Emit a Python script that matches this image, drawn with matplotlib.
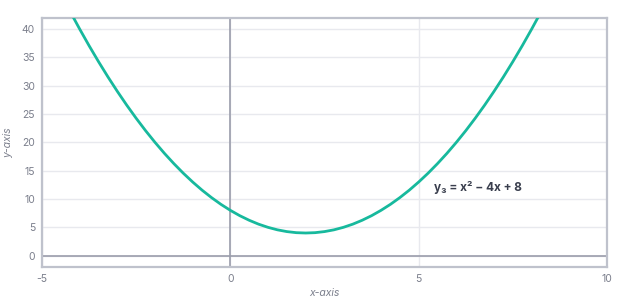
import matplotlib
matplotlib.use("Agg")
import matplotlib.pyplot as plt

# curve points
x_vals = [-4.5, -4.25, -4.0, -3.75, -3.5, -3.25, -3.0, -2.75, -2.5, -2.25, -2.0, -1.75,
          -1.5, -1.25, -1.0, -0.75, -0.5, -0.25, 0.0, 0.25, 0.5, 0.75, 1.0, 1.25, 1.5,
          1.75, 2.0, 2.25, 2.5, 2.75, 3.0, 3.25, 3.5, 3.75, 4.0, 4.25, 4.5, 4.75, 5.0,
          5.25, 5.5, 5.75, 6.0, 6.25, 6.5, 6.75, 7.0, 7.25, 7.5, 7.75, 8.0, 8.25, 8.5]
y_vals = [46.25, 43.06, 40.0, 37.06, 34.25, 31.56, 29.0, 26.56, 24.25, 22.06, 20.0, 18.06,
          16.25, 14.56, 13.0, 11.56, 10.25, 9.06, 8.0, 7.06, 6.25, 5.56, 5.0, 4.56, 4.25,
          4.06, 4.0, 4.06, 4.25, 4.56, 5.0, 5.56, 6.25, 7.06, 8.0, 9.06, 10.25, 11.56, 13.0,
          14.56, 16.25, 18.06, 20.0, 22.06, 24.25, 26.56, 29.0, 31.56, 34.25, 37.06, 40.0,
          43.06, 46.25]
x_ticks = [-5, 0, 5, 10]
y_ticks = [0, 5, 10, 15, 20, 25, 30, 35, 40]
label = "y₃ = x² − 4x + 8"

plt.rcParams['font.family'] = ['Inter', 'DejaVu Sans']
plt.rcParams['axes.unicode_minus'] = False

fig = plt.figure(figsize=(6.24, 2.97), dpi=100)
ax = fig.add_axes([0.0673, 0.101, 0.9055, 0.8394])

ax.set_xlim(-5, 10)
ax.set_ylim(-2, 42)
ax.set_xticks(x_ticks)
ax.set_yticks(y_ticks)
ax.grid(True, color='#e8e9ee', linewidth=1.0)
ax.set_axisbelow(True)
ax.axhline(0, color='#9a9dab', linewidth=1.2, zorder=1)
ax.axvline(0, color='#9a9dab', linewidth=1.2, zorder=1)

ax.plot(x_vals, y_vals, color='#17b99d', linewidth=2.0, zorder=3,
        solid_joinstyle='round', solid_capstyle='round')

for s in ax.spines.values():
    s.set_color('#bfc2cc')
    s.set_linewidth(1.6)
ax.tick_params(length=0, labelsize=7.5, labelcolor='#7b7f8c', pad=5)

ax.set_xlabel("x-axis", fontsize=7.5, color='#7b7f8c', style='italic', labelpad=3)
ax.set_ylabel("y-axis", fontsize=7.5, color='#7b7f8c', style='italic', labelpad=6)

ax.text(5.4, 12.0, label, fontsize=8.5, fontweight='bold', color='#3a3f4e',
        va='center', ha='left')

fig.savefig("out.png", dpi=100)
